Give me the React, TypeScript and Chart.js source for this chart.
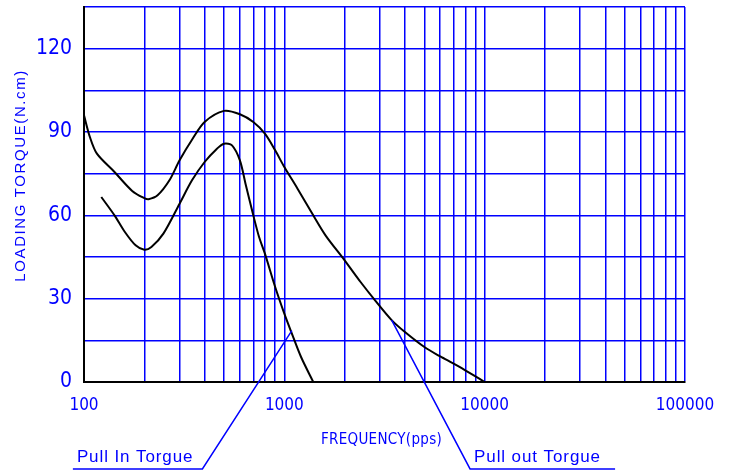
import { useEffect, useRef } from 'react';
import { Chart, registerables } from 'chart.js';

Chart.register(...registerables);

// ---- data ----
const pullOutFreq = [100, 107, 116, 142, 174, 200, 210, 233, 267, 300, 346, 400, 500, 600, 700, 800, 900, 1000, 1164, 1394, 1605, 2000, 2402, 2837, 3441, 4000, 5000, 6000, 7000, 8000, 9000, 10000];
const pullOutTorque = [96, 88.2, 82.2, 75.6, 68.8, 66.2, 65.8, 67.2, 72.6, 79.8, 87.2, 93.6, 97.6, 96.4, 93.6, 89.4, 83.4, 77.4, 69.6, 60, 52.8, 43.8, 36, 29.4, 22.2, 18, 12.6, 9.2, 6.6, 4.2, 2, 0];

const pullInFreq = [122, 142, 160, 181, 200, 217, 249, 300, 346, 400, 461, 500, 548, 600, 640, 700, 748, 800, 900, 1000, 1075, 1212, 1395];
const pullInTorque = [66.6, 60, 54, 49.2, 47.6, 48.6, 53.4, 64.2, 72.6, 79.2, 84, 85.8, 85.2, 79.8, 71.4, 60, 52.2, 46.2, 34.2, 24.6, 18.6, 9, 0];

// axes
const freqMin = 100;
const freqMax = 100000;
const gridDecades = [100, 1000, 10000];
const gridMultipliers = [1, 2, 3, 4, 5, 6, 7, 8, 9];
const freqLabels = [100, 1000, 10000, 100000];
const torqueMin = 0;
const torqueMax = 135;
const torqueGridStep = 15;
const torqueLabelStep = 30;

const xTitle = 'FREQUENCY(pps)';
const yTitle = 'LOADING TORQUE(N.cm)';

// callouts (leader tip on curve, elbow, end of underline) in data units
const calloutText = ['Pull In Torgue', 'Pull out Torgue'];
const calloutTipFreq = [1090, 3433];
const calloutTipTorque = [18.5, 22.3];
const calloutElbowFreq = [390, 8453];
const calloutElbowTorque = [-31.3, -31.3];
const calloutEndFreq = [88, 44770];

const BLUE = '#0000ff';
const COND = "'DejaVu Sans Condensed', 'DejaVu Sans', sans-serif";
const SANS = "'Liberation Sans', 'DejaVu Sans', sans-serif";

const overlayPlugin = {
  id: 'overlay',
  afterDraw(chart: any) {
    const { ctx, chartArea, scales } = chart;
    const xs = scales.x;
    const ys = scales.y;
    ctx.save();
    ctx.strokeStyle = BLUE;
    ctx.fillStyle = BLUE;
    ctx.lineWidth = 1.5;

    calloutText.forEach((text, i) => {
      const tx = xs.getPixelForValue(calloutTipFreq[i]);
      const ty = ys.getPixelForValue(calloutTipTorque[i]);
      const ex = xs.getPixelForValue(calloutElbowFreq[i]);
      const ey = ys.getPixelForValue(calloutElbowTorque[i]);
      const ux = xs.getPixelForValue(calloutEndFreq[i]);
      ctx.beginPath();
      ctx.moveTo(tx, ty);
      ctx.lineTo(ex, ey);
      ctx.lineTo(ux, ey);
      ctx.stroke();
      ctx.font = `17px ${SANS}`;
      (ctx as any).letterSpacing = '0.9px';
      ctx.textAlign = 'left';
      ctx.textBaseline = 'alphabetic';
      ctx.fillText(text, Math.min(ex, ux) + 4, ey - 7);
    });

    // x axis title
    (ctx as any).letterSpacing = '0.3px';
    ctx.font = `15px ${COND}`;
    ctx.textAlign = 'center';
    ctx.textBaseline = 'alphabetic';
    ctx.fillText(xTitle, (chartArea.left + chartArea.right) / 2 - 3, chartArea.bottom + 62);

    // y axis title
    (ctx as any).letterSpacing = '1.6px';
    ctx.font = `15px ${SANS}`;
    ctx.translate(chartArea.left - 59, chartArea.top + (chartArea.bottom - chartArea.top) * 0.449);
    ctx.rotate(-Math.PI / 2);
    ctx.textAlign = 'center';
    ctx.fillText(yTitle, 0, 0);
    ctx.restore();
  },
};

export default function App() {
  const canvasRef = useRef<HTMLCanvasElement | null>(null);

  useEffect(() => {
    if (!canvasRef.current) return;
    const gridFreqs: number[] = [];
    gridDecades.forEach((d) => gridMultipliers.forEach((m) => gridFreqs.push(d * m)));
    gridFreqs.push(freqMax);

    const chart = new Chart(canvasRef.current, {
      type: 'line',
      data: {
        datasets: [
          {
            label: 'Pull out Torgue',
            data: pullOutFreq.map((f, i) => ({ x: f, y: pullOutTorque[i] })),
            borderColor: '#000000',
            borderWidth: 2,
            pointRadius: 0,
            fill: false,
            tension: 0.3,
          },
          {
            label: 'Pull In Torgue',
            data: pullInFreq.map((f, i) => ({ x: f, y: pullInTorque[i] })),
            borderColor: '#000000',
            borderWidth: 2,
            pointRadius: 0,
            fill: false,
            tension: 0.3,
          },
        ],
      },
      options: {
        responsive: false,
        animation: false,
        layout: { padding: { left: 0, right: 49, top: 7, bottom: 0 } },
        plugins: { legend: { display: false }, tooltip: { enabled: false } },
        scales: {
          x: {
            type: 'logarithmic',
            min: freqMin,
            max: freqMax,
            afterBuildTicks: (s: any) => {
              s.ticks = gridFreqs.map((v) => ({ value: v }));
            },
            afterFit: (s: any) => {
              s.height = 91;
              s.paddingLeft = 0;
              s.paddingRight = 0;
            },
            grid: { color: BLUE, lineWidth: 1.5, drawTicks: false },
            border: { color: '#000000', width: 2 },
            ticks: {
              autoSkip: false,
              maxRotation: 0,
              minRotation: 0,
              padding: 13,
              color: BLUE,
              font: { family: COND, size: 17 },
              callback: (v: any) => (freqLabels.includes(Number(v)) ? String(v) : ''),
            },
          },
          y: {
            type: 'linear',
            min: torqueMin,
            max: torqueMax,
            afterFit: (s: any) => {
              s.width = 84;
              s.paddingTop = 0;
              s.paddingBottom = 0;
            },
            grid: { color: BLUE, lineWidth: 1.5, drawTicks: false },
            border: { color: '#000000', width: 2 },
            ticks: {
              stepSize: torqueGridStep,
              padding: 12,
              color: BLUE,
              font: { family: COND, size: 21 },
              callback: (v: any) => (Number(v) % torqueLabelStep === 0 ? String(v) : ''),
            },
          },
        },
      },
      plugins: [overlayPlugin],
    } as any);

    return () => chart.destroy();
  }, []);

  return (
    <div style={{ position: 'fixed', left: 0, top: 0, width: 734, height: 473, background: '#ffffff' }}>
      <canvas ref={canvasRef} width={734} height={473} />
    </div>
  );
}
